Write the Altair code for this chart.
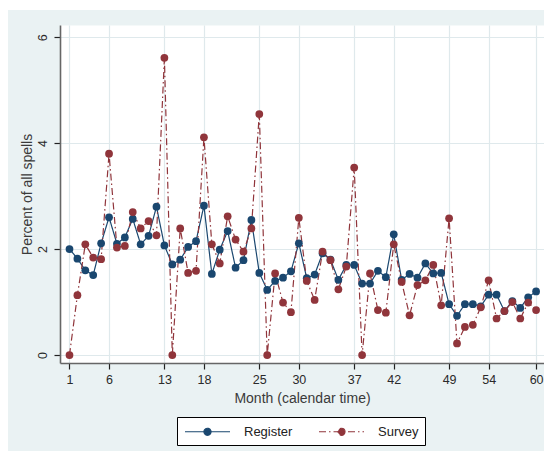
import altair as alt
import pandas as pd

# Monthly share of spells (percent) by calendar month, two data sources
months = list(range(1, 61))
register = [
    2.00, 1.82, 1.60, 1.51, 2.11, 2.60, 2.10, 2.22, 2.57, 2.09,
    2.25, 2.80, 2.07, 1.71, 1.80, 2.04, 2.15, 2.82, 1.53, 1.99,
    2.34, 1.65, 1.79, 2.55, 1.55, 1.23, 1.40, 1.46, 1.58, 2.11,
    1.45, 1.52, 1.92, 1.80, 1.42, 1.70, 1.70, 1.35, 1.35, 1.59,
    1.47, 2.28, 1.42, 1.53, 1.46, 1.73, 1.54, 1.55, 0.96, 0.74,
    0.96, 0.96, 0.92, 1.14, 1.14, 0.83, 1.02, 0.89, 1.09, 1.20,
]
survey = [
    0.00, 1.13, 2.09, 1.84, 1.81, 3.80, 2.03, 2.06, 2.70, 2.39,
    2.53, 2.26, 5.61, 0.00, 2.39, 1.55, 1.59, 4.11, 2.09, 1.73,
    2.62, 2.18, 1.95, 2.39, 4.55, 0.00, 1.54, 0.99, 0.81, 2.59,
    1.40, 1.04, 1.95, 1.79, 1.24, 1.67, 3.54, 0.00, 1.54, 0.85,
    0.80, 2.09, 1.38, 0.75, 1.32, 1.41, 1.70, 0.94, 2.58, 0.22,
    0.53, 0.57, 0.90, 1.41, 0.69, 0.83, 1.00, 0.69, 0.99, 0.85,
]
x_ticks = [1, 6, 13, 18, 25, 30, 37, 42, 49, 54, 60]
y_ticks = [0, 2, 4, 6]
series_names = ["Register", "Survey"]
series_colors = ["#1a476f", "#90353b"]
series_dashes = [[1, 0], [7, 3, 1.5, 3]]

df = pd.DataFrame({
    "month": months + months,
    "pct": register + survey,
    "series": [series_names[0]] * len(months) + [series_names[1]] * len(months),
})

W, H = 484, 338
FONT = "Liberation Sans"
GRID = "#dfe9ec"
PANEL = "#eaf2f3"

# line + dot legend glyph
sym_path = "M-3,0L3,0M0.47,0A0.47,0.47,0,1,1,-0.47,0A0.47,0.47,0,1,1,0.47,0Z"
legend = alt.Legend(
    title=None, orient="none", legendX=117, legendY=392, direction="horizontal",
    strokeColor="black", fillColor="white", padding=6, columnPadding=23,
    symbolType=sym_path, symbolSize=225, symbolStrokeWidth=1.2,
    symbolOffset=16, labelOffset=28,
    labelFont=FONT, labelFontSize=13, labelColor="#222222",
)

x_enc = alt.X(
    "month:Q",
    scale=alt.Scale(domain=[-0.2, 61.0], nice=False, zero=False),
    axis=alt.Axis(values=x_ticks, title="Month (calendar time)", format="d"),
)
y_enc = alt.Y(
    "pct:Q",
    scale=alt.Scale(domain=[-0.15, 6.23], nice=False, zero=False),
    axis=alt.Axis(values=y_ticks, title="Percent of all spells", format="d",
                  labelAngle=270, labelAlign="center", labelBaseline="bottom",
                  labelPadding=5, titleX=-33, titleY=H / 2, titleAngle=270,
                  titleAlign="center", titleBaseline="middle"),
)
color = alt.Color("series:N", scale=alt.Scale(domain=series_names, range=series_colors),
                  legend=legend)
dash = alt.StrokeDash("series:N", scale=alt.Scale(domain=series_names, range=series_dashes),
                      legend=legend)

base = alt.Chart(df)
lines = base.mark_line(strokeWidth=1.2).encode(x=x_enc, y=y_enc, color=color, strokeDash=dash)
dots = base.mark_circle(size=60, opacity=1).encode(x=x_enc, y=y_enc, color=color)

# white page margin on the left and top of the shaded graph region
one = alt.Chart(pd.DataFrame({"k": [0]}))
left_strip = one.mark_rect(color="white").encode(
    x=alt.value(-60), x2=alt.value(-52), y=alt.value(-25), y2=alt.value(H + 88))
top_strip = one.mark_rect(color="white").encode(
    x=alt.value(-60), x2=alt.value(W), y=alt.value(-25), y2=alt.value(-15))

chart = (
    alt.layer(left_strip, top_strip, lines, dots)
    .properties(width=W, height=H, autosize=alt.AutoSizeParams(type="none"),
                padding={"left": 60, "top": 25, "right": 0, "bottom": 88},
                background=PANEL)
    .configure_view(fill="white", stroke="transparent")
    .configure_axis(
        labelFont=FONT, titleFont=FONT, labelFontSize=12.5, titleFontSize=14,
        titleFontWeight="normal", labelColor="#2a2a2a", titleColor="#3a3a3a",
        domainColor="#666666", domainWidth=1.6, tickColor="#222222", tickWidth=1.2,
        tickSize=6, gridColor=GRID, gridWidth=1.2,
    )
    .configure_axisX(labelPadding=4, titlePadding=6)
)

chart.save("out.html", embed_options={"renderer": "svg", "actions": False})
